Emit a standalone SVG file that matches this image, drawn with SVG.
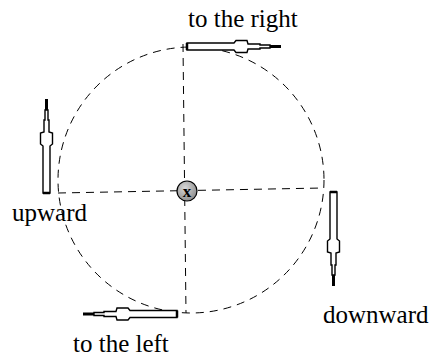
<svg xmlns="http://www.w3.org/2000/svg" xmlns:xlink="http://www.w3.org/1999/xlink" width="437" height="360" viewBox="0 0 437 360">
<style>
.lbl{font-family:'Liberation Serif','Times New Roman',serif;font-size:25px;fill:#000}
.dash{fill:none;stroke:#000;stroke-width:1;stroke-dasharray:8 6}
.arr{fill:#fff;stroke:#000;stroke-width:1.4;stroke-linejoin:miter}
.tip{stroke:#000;stroke-width:3}
</style>
<defs>
<radialGradient id="ballGrad" cx="0.4" cy="0.35" r="0.7">
<stop offset="0" stop-color="#d8d8d8"/>
<stop offset="1" stop-color="#8a8a8a"/>
</radialGradient>
<g id="arrowShape">
<path class="arr" d="M0,-3.5 L47,-3.5 L49,-6 L60,-6 L61,-2.5 L73,-2.5 L73,-1.5 L83,-1.5 L83,1.5 L73,1.5 L73,2.5 L61,2.5 L60,6 L49,6 L47,3.5 L0,3.5 Z"/>
<line class="tip" x1="83" y1="0" x2="94" y2="0"/>
<line stroke="#000" stroke-width="2.5" x1="0" y1="-3.5" x2="0" y2="3.5"/>
</g>
</defs>
<rect width="437" height="360" fill="#fff"/>
<g id="connectors">
<circle class="dash" cx="191" cy="180" r="133"/>
<line class="dash" x1="58" y1="193" x2="323" y2="188"/>
<line class="dash" x1="183" y1="44" x2="186" y2="313"/>
</g>
<g id="center">
<circle cx="187" cy="191" r="10" fill="url(#ballGrad)" stroke="#000" stroke-width="1.2"/>
<text x="187" y="197" text-anchor="middle" font-family="Liberation Serif, serif" font-size="17" font-weight="bold">x</text>
</g>
<g id="right">
<use xlink:href="#arrowShape" transform="translate(187,46.5)"/>
<text class="lbl" font-family="Liberation Serif, serif" x="188" y="27">to the right</text>
</g>
<g id="up">
<use xlink:href="#arrowShape" transform="translate(46.5,193) rotate(-90)"/>
<text class="lbl" font-family="Liberation Serif, serif" x="12" y="221">upward</text>
</g>
<g id="down">
<use xlink:href="#arrowShape" transform="translate(333.5,192) rotate(90)"/>
<text class="lbl" font-family="Liberation Serif, serif" x="323" y="323">downward</text>
</g>
<g id="left">
<use xlink:href="#arrowShape" transform="translate(177,314) rotate(180)"/>
<text class="lbl" font-family="Liberation Serif, serif" x="73" y="352">to the left</text>
</g>
</svg>
